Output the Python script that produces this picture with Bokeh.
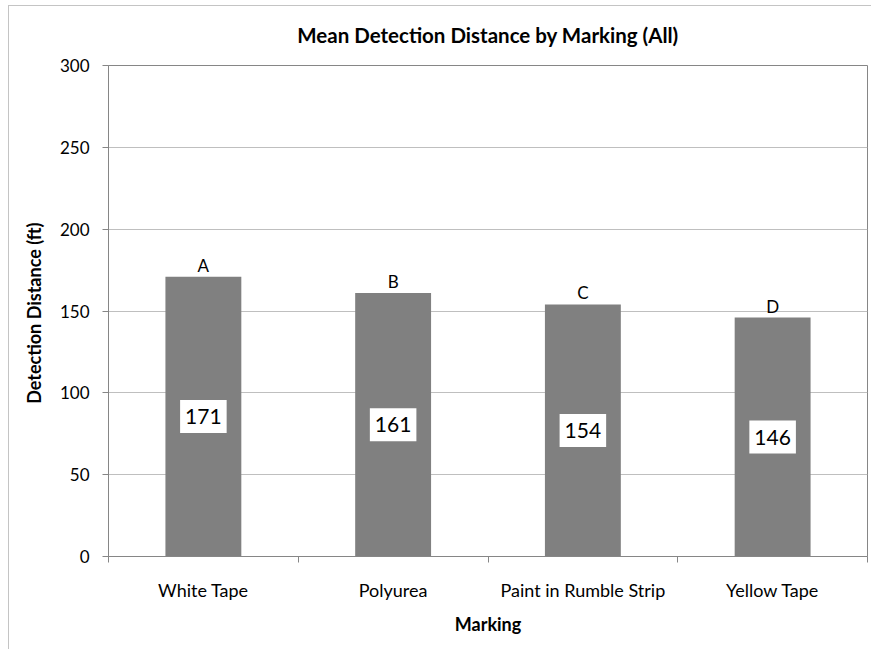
import numpy as np
from bokeh.plotting import figure
from bokeh.models import ColumnDataSource, FixedTicker, Range1d
from bokeh.core.properties import value
from bokeh.embed import file_html
from bokeh.resources import INLINE

categories = ["White Tape", "Polyurea", "Paint in Rumble Strip", "Yellow Tape"]
means = [171, 161, 154, 146]
groups = ["A", "B", "C", "D"]
y_ticks = [0, 50, 100, 150, 200, 250, 300]

FONT = "Lato"
xs = np.arange(len(categories)) + 0.5
src = ColumnDataSource(dict(
    x=xs, y=means, half=[m / 2 for m in means],
    lab=[str(m) for m in means], grp=groups,
))

p = figure(width=871, height=649, output_backend="svg", toolbar_location=None,
           x_range=Range1d(0, len(categories)), y_range=Range1d(y_ticks[0], y_ticks[-1]),
           min_border_left=108, min_border_right=4, min_border_top=65, min_border_bottom=93,
           title="Mean Detection Distance by Marking (All)")
p.styles = {"background": "linear-gradient(#c4c4c4,#c4c4c4) 8px 5px / 100% 1px no-repeat, "
                          "linear-gradient(#c4c4c4,#c4c4c4) 8px 5px / 1px 100% no-repeat"}

p.title.align = "center"
p.title.text_font = FONT
p.title.text_font_size = "20.5px"
p.title.text_font_style = "bold"
p.title.text_color = "black"
p.title.standoff = 37

p.outline_line_color = "#868686"
p.outline_line_width = 1
p.background_fill_color = "white"
p.border_fill_alpha = 0

p.vbar(x="x", top="y", width=0.4, source=src, fill_color="#808080", line_color=None)

p.text(x="x", y="half", text="lab", source=src, text_align="center", text_baseline="middle",
       text_font=value(FONT), text_font_size="21px", text_color="black",
       background_fill_color="white", padding=dict(x=5, y=9))
p.text(x="x", y="y", text="grp", source=src, text_align="center", text_baseline="bottom",
       y_offset=-1, text_font=value(FONT), text_font_size="17px", text_color="black")

# y axis
p.yaxis.ticker = FixedTicker(ticks=y_ticks)
p.yaxis.axis_label = "Detection Distance  (ft)"
p.yaxis.axis_label_text_font = FONT
p.yaxis.axis_label_text_font_size = "18px"
p.yaxis.axis_label_text_font_style = "bold"
p.yaxis.axis_label_text_color = "black"
p.yaxis.axis_label_standoff = 12
p.yaxis.major_label_text_font = FONT
p.yaxis.major_label_text_font_size = "17px"
p.yaxis.major_label_text_color = "black"
p.yaxis.major_label_standoff = 13
p.yaxis.axis_line_color = "#868686"
p.yaxis.major_tick_line_color = "#868686"
p.yaxis.major_tick_out = 6
p.yaxis.major_tick_in = 0
p.yaxis.minor_tick_line_color = None

# x axis
p.xaxis.ticker = FixedTicker(ticks=list(xs), minor_ticks=list(range(len(categories) + 1)))
p.xaxis.major_label_overrides = {float(x): c for x, c in zip(xs, categories)}
p.xaxis.axis_label = "Marking"
p.xaxis.axis_label_text_font = FONT
p.xaxis.axis_label_text_font_size = "18px"
p.xaxis.axis_label_text_font_style = "bold"
p.xaxis.axis_label_text_color = "black"
p.xaxis.axis_label_standoff = 9
p.xaxis.major_label_text_font = FONT
p.xaxis.major_label_text_font_size = "18px"
p.xaxis.major_label_text_color = "black"
p.xaxis.major_label_standoff = 16
p.xaxis.axis_line_color = "#868686"
p.xaxis.major_tick_out = 0
p.xaxis.major_tick_in = 0
p.xaxis.minor_tick_line_color = "#868686"
p.xaxis.minor_tick_out = 6
p.xaxis.minor_tick_in = 0

p.xgrid.grid_line_color = None
p.ygrid.ticker = FixedTicker(ticks=y_ticks)
p.ygrid.grid_line_color = "#bfbfbf"

open("out.html", "w").write(file_html(p, INLINE))
